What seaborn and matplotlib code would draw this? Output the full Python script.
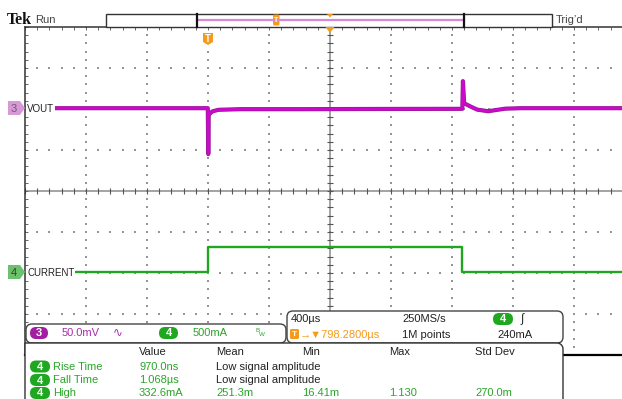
import matplotlib
matplotlib.use('Agg')
import matplotlib.pyplot as plt
import matplotlib.patheffects as pe
from matplotlib.patches import FancyBboxPatch, Polygon, Rectangle
import numpy as np
import pandas as pd
import seaborn as sns

# ---- values ----
# ch3 VOUT: ac deviation in mV (50 mV/div), time in us from trigger
vout_t = [-1200, -3, 0, 3, 26, 66, 210, 600, 1000, 1666, 1670, 1678, 1720, 1764, 1836, 1882, 1948, 2050, 2800]
vout_mv = [0, 0, -56, -8, -4, -2, -1.2, -1.2, -1, -0.8, 33, 6, 2, -1.8, -3.7, -2.4, -0.6, 0, 0]
# ch4 CURRENT in mA (500 mA/div)
cur_t = [-1200, 0, 0, 1667, 1667, 2800]
cur_ma = [0, 0, 310, 310, 0, 0]

vout_scale, vout_pos = 50.0, 2.02
cur_scale, cur_pos = 500.0, -1.98
time_div = 400.0
horiz_pos = 798.28

meas_cols = ['Value', 'Mean', 'Min', 'Max', 'Std Dev']
meas_names = ['Rise Time', 'Fall Time', 'High']
meas_vals = [['970.0ns', 'Low signal amplitude'],
             ['1.068µs', 'Low signal amplitude'],
             ['332.6mA', '251.3m', '16.41m', '1.130', '270.0m']]

PURPLE = '#cc08cc'
PURPLE_TXT = '#a82ca8'
GREEN = '#1fa81f'
GREEN_TXT = '#2aa52a'
ORANGE = '#f49a1c'
FONT = ['Liberation Sans', 'DejaVu Sans']

W, H = 622, 399
fig = plt.figure(figsize=(6.22, 3.99), dpi=100)
fig.patch.set_facecolor('white')

# graticule axes (pixel box 25..635 x 27..355)
ax = fig.add_axes([25 / W, 1 - 355 / H, 610 / W, 328 / H])
x0 = horiz_pos - 5 * time_div
ax.set_xlim(x0, x0 + 10 * time_div)
ax.set_ylim(-4, 4)

xminor = x0 + time_div / 5 * np.arange(0, 51)
yminor = np.arange(-20, 21) / 5
xmajor = [x0 + time_div * k for k in range(1, 10) if k != 5]
ymajor = [k for k in range(-3, 4) if k != 0]

# dotted grid
gx = np.concatenate([np.repeat(xmajor, len(yminor)), np.tile(xminor, len(ymajor))])
gy = np.concatenate([np.tile(yminor, len(xmajor)), np.repeat(ymajor, len(xminor))])
ax.scatter(gx, gy, s=1.2, marker='s', color='#959595', linewidths=0, zorder=1)

# center cross with ticks
ax.axhline(0, color='#8a8a8a', lw=1.1, zorder=1)
ax.axvline(horiz_pos, color='#8a8a8a', lw=1.1, zorder=1)
ax.plot(xminor, np.zeros_like(xminor), ls='none', marker='|', ms=4, mew=0.8, color='#555555', zorder=1)
ax.plot(np.full_like(yminor, horiz_pos), yminor, ls='none', marker='_', ms=4, mew=0.8, color='#555555', zorder=1)

ax.xaxis.set_ticks_position('top')
ax.set_xticks(xminor)
ax.set_yticks(yminor)
ax.tick_params(direction='in', length=2.5, width=0.7, colors='#666666',
               labeltop=False, labelbottom=False, labelleft=False,
               bottom=False, right=False)
for side in ['left', 'top', 'right']:
    ax.spines[side].set_color('#333333')
    ax.spines[side].set_linewidth(1.1)
ax.spines['bottom'].set_color('black')
ax.spines['bottom'].set_linewidth(1.6)

# traces
vdf = pd.DataFrame({'t': vout_t, 'div': vout_pos + np.array(vout_mv) / vout_scale})
cdf = pd.DataFrame({'t': cur_t, 'div': cur_pos + np.array(cur_ma) / cur_scale})
sns.lineplot(data=vdf, x='t', y='div', ax=ax, color=PURPLE, lw=2.0, estimator=None, sort=False,
             path_effects=[pe.Stroke(linewidth=3.0, foreground='#941c94'), pe.Normal()], zorder=3)
sns.lineplot(data=cdf, x='t', y='div', ax=ax, color=GREEN, lw=1.7, estimator=None, sort=False, zorder=3)
ax.set_xlabel('')
ax.set_ylabel('')

# ---- screen annotations in pixel coordinates ----
ov = fig.add_axes([0, 0, 1, 1], zorder=5)
ov.set_xlim(0, W)
ov.set_ylim(H, 0)
ov.axis('off')
ov.patch.set_visible(False)


def txt(x, y, s, color='#222222', size=8, family=FONT, **kw):
    ov.text(x, y, s, color=color, fontsize=size, va='center', ha='left', family=family, **kw)


def pill(x, y, w, h, label, fc):
    ov.add_patch(FancyBboxPatch((x, y), w, h, boxstyle=f'round,pad=0,rounding_size={h / 2}',
                                fc=fc, ec='none'))
    ov.text(x + w / 2, y + h / 2 + 0.5, label, color='white', ha='center', va='center',
            fontsize=8, fontweight='bold', family=FONT)


def tmark(x, y, w, h, size=6.5):
    ov.add_patch(FancyBboxPatch((x, y), w, h, boxstyle='round,pad=0,rounding_size=1.5',
                                fc=ORANGE, ec='none'))
    ov.text(x + w / 2, y + h / 2 + 0.3, 'T', color='white', ha='center', va='center',
            fontsize=size, fontweight='bold', family=FONT)


# header
ov.text(7, 20, 'Tek', fontsize=11.5, fontweight='bold', family=['Liberation Serif', 'DejaVu Serif'],
        va='center', ha='left', color='#111111')
txt(35, 20, 'Run', color='#444444', size=8)
txt(556, 20, 'Trig’d', color='#444444', size=8)

# record bar
ov.add_patch(Rectangle((106, 14), 446, 13, fc='white', ec='#333333', lw=1))
ov.plot([197, 464], [20, 20], color='#d68ad6', lw=1.6)
ov.plot([197, 197], [14, 27], color='#111111', lw=1.6)
ov.plot([464, 464], [14, 27], color='#111111', lw=1.6)
tmark(273, 14.5, 6.5, 11, size=5)
ov.add_patch(Polygon([[327, 14], [333, 14], [330, 17.5]], fc=ORANGE, ec='none'))
ov.add_patch(Polygon([[325.5, 27], [334.5, 27], [330, 33]], fc=ORANGE, ec='none'))

# trigger position marker
ov.add_patch(Polygon([[203, 33], [213, 33], [213, 42], [208, 45], [203, 42]], fc=ORANGE, ec='none'))
ov.text(208, 38.5, 'T', color='white', ha='center', va='center', fontsize=7, fontweight='bold', family=FONT)

# channel ground markers + labels
ov.add_patch(Polygon([[8, 101], [20, 101], [25, 108], [20, 115], [8, 115]], fc='#d79ad7', ec='none'))
ov.text(14, 108.5, '3', color='#6e5a6e', ha='center', va='center', fontsize=8, family=FONT)
ov.add_patch(Polygon([[8, 265], [20, 265], [25, 272], [20, 279], [8, 279]], fc='#6cc26c', ec='none'))
ov.text(14, 272.5, '4', color='#3a3a3a', ha='center', va='center', fontsize=8, family=FONT)
txt(27, 109, 'VOUT', color='#222222', size=7, bbox=dict(fc='white', ec='none', pad=0.6))
txt(27, 272.5, 'CURRENT', color='#222222', size=7, bbox=dict(fc='white', ec='none', pad=0.6))

# channel settings box
ov.add_patch(FancyBboxPatch((26, 324), 260, 19, boxstyle='round,pad=0,rounding_size=6',
                            fc='white', ec='#444444', lw=1))
pill(30, 327, 18, 12, '3', '#a21fa2')
txt(62, 333.5, '50.0mV', color=PURPLE_TXT)
txt(113, 332.5, '∿', color=PURPLE_TXT, size=8.5)
pill(159, 327, 19, 12, '4', GREEN)
txt(193, 333.5, '500mA', color=GREEN_TXT)
txt(255, 330, 'B', color=GREEN_TXT, size=4.5)
txt(259, 335, 'W', color=GREEN_TXT, size=4.5)

# timebase box
ov.add_patch(FancyBboxPatch((287, 311), 276, 32, boxstyle='round,pad=0,rounding_size=6',
                            fc='white', ec='#444444', lw=1))
txt(291, 319.5, '400µs')
txt(402, 319.5, '250MS/s')
pill(493, 313, 20, 12, '4', GREEN)
txt(521, 319.5, '∫', size=8.5)
tmark(290, 329, 9, 10, size=6)
txt(300, 334.5, '→▼798.2800µs', color=ORANGE)
txt(402, 334.5, '1M points')
txt(497, 334.5, '240mA')

# measurement table
arc = np.linspace(np.pi / 2, 0, 8)
r = 6
corner = np.column_stack([557 + r * np.cos(arc), 349 - r * np.sin(arc)])
table_pts = np.vstack([[[25, 402], [25, 343]], corner, [[563, 402]]])
ov.add_patch(Polygon(table_pts, closed=True, fc='white', ec='#333333', lw=1))

col_x = [139, 216, 302, 389, 475]
for cx, name in zip(col_x, meas_cols):
    txt(cx, 352, name)
row_y = [366.5, 380, 393]
for ry, name, vals in zip(row_y, meas_names, meas_vals):
    pill(30, ry - 6, 20, 12, '4', GREEN)
    txt(53, ry, name, color=GREEN_TXT)
    for cx, v in zip(col_x, vals):
        col = '#222222' if v.startswith('Low') else GREEN_TXT
        txt(cx, ry, v, color=col)

fig.savefig('out.png', dpi=100)
